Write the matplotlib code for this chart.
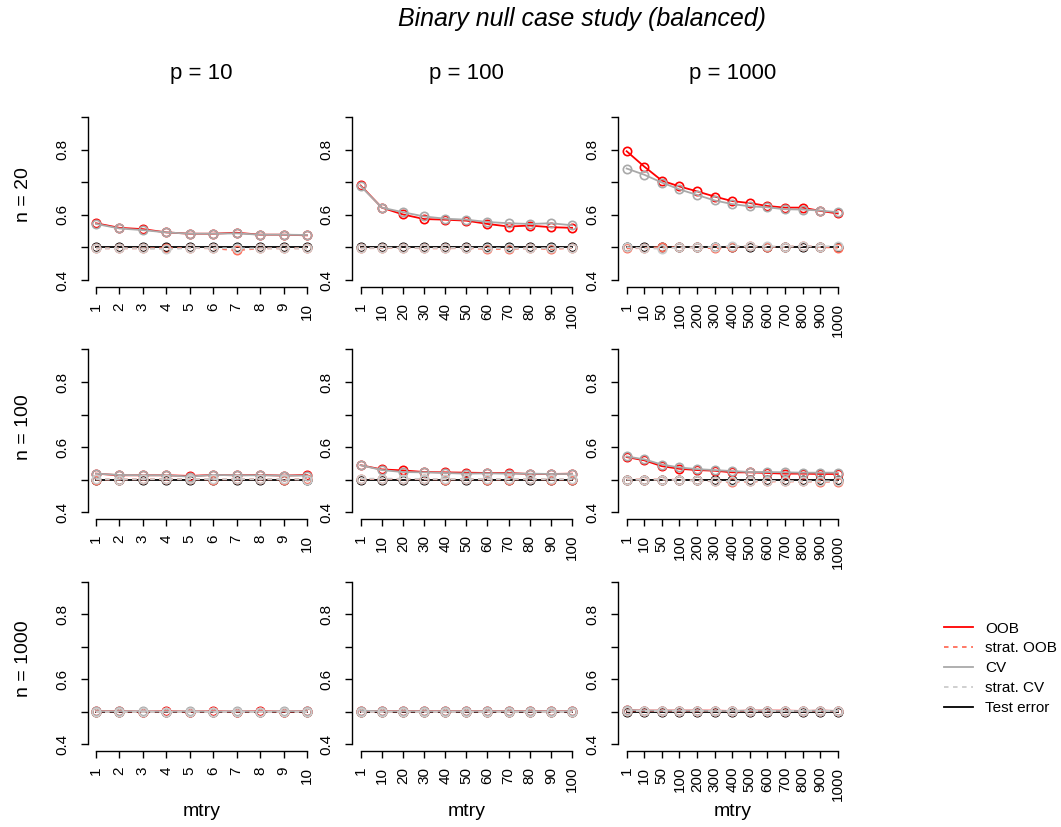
import matplotlib
matplotlib.use("Agg")
import matplotlib.pyplot as plt
from matplotlib.lines import Line2D

plt.rcParams["font.family"] = ["Liberation Sans", "DejaVu Sans"]

# mtry grids per number of predictors p
mtry_p10 = ["1", "2", "3", "4", "5", "6", "7", "8", "9", "10"]
mtry_p100 = ["1", "10", "20", "30", "40", "50", "60", "70", "80", "90", "100"]
mtry_p1000 = ["1", "10", "50", "100", "200", "300", "400", "500", "600",
              "700", "800", "900", "1000"]

col_titles = ["p = 10", "p = 100", "p = 1000"]
row_titles = ["n = 20", "n = 100", "n = 1000"]
series_names = ["OOB", "strat. OOB", "CV", "strat. CV", "Test error"]

# ---- n = 20 ----
oob_n20_p10 = [0.574, 0.560, 0.556, 0.546, 0.542, 0.542, 0.545, 0.539, 0.539, 0.537]
soob_n20_p10 = [0.497, 0.497, 0.497, 0.498, 0.498, 0.497, 0.491, 0.497, 0.497, 0.497]
cv_n20_p10 = [0.572, 0.558, 0.553, 0.546, 0.542, 0.542, 0.543, 0.539, 0.539, 0.538]
scv_n20_p10 = [0.497, 0.497, 0.497, 0.494, 0.498, 0.498, 0.497, 0.497, 0.497, 0.497]
test_n20_p10 = [0.501, 0.501, 0.501, 0.501, 0.501, 0.501, 0.501, 0.501, 0.501, 0.501]

oob_n20_p100 = [0.690, 0.622, 0.601, 0.587, 0.585, 0.582, 0.572, 0.564, 0.567, 0.562, 0.560]
soob_n20_p100 = [0.497, 0.498, 0.499, 0.497, 0.497, 0.498, 0.495, 0.495, 0.497, 0.495, 0.498]
cv_n20_p100 = [0.688, 0.622, 0.608, 0.595, 0.588, 0.585, 0.578, 0.574, 0.572, 0.574, 0.568]
scv_n20_p100 = [0.497, 0.499, 0.499, 0.498, 0.498, 0.499, 0.498, 0.497, 0.497, 0.498, 0.499]
test_n20_p100 = [0.501, 0.501, 0.501, 0.501, 0.501, 0.501, 0.501, 0.501, 0.501, 0.501, 0.501]

oob_n20_p1000 = [0.795, 0.748, 0.705, 0.687, 0.672, 0.656, 0.642, 0.636, 0.627,
                 0.622, 0.622, 0.612, 0.604]
soob_n20_p1000 = [0.497, 0.498, 0.501, 0.500, 0.500, 0.497, 0.502, 0.503, 0.502,
                  0.501, 0.505, 0.501, 0.499]
cv_n20_p1000 = [0.742, 0.723, 0.699, 0.678, 0.661, 0.644, 0.633, 0.626, 0.623,
                0.617, 0.616, 0.613, 0.608]
scv_n20_p1000 = [0.501, 0.497, 0.496, 0.500, 0.500, 0.501, 0.504, 0.503, 0.503,
                 0.502, 0.504, 0.502, 0.505]
test_n20_p1000 = [0.500, 0.500, 0.500, 0.500, 0.500, 0.500, 0.500, 0.500, 0.500,
                  0.500, 0.500, 0.500, 0.500]

# ---- n = 100 ----
oob_n100_p10 = [0.518, 0.513, 0.513, 0.513, 0.511, 0.514, 0.513, 0.514, 0.512, 0.514]
soob_n100_p10 = [0.500, 0.500, 0.501, 0.501, 0.501, 0.500, 0.501, 0.501, 0.500, 0.501]
cv_n100_p10 = [0.518, 0.514, 0.513, 0.513, 0.509, 0.514, 0.513, 0.513, 0.512, 0.512]
scv_n100_p10 = [0.501, 0.500, 0.501, 0.501, 0.501, 0.501, 0.501, 0.501, 0.501, 0.500]
test_n100_p10 = [0.500, 0.500, 0.500, 0.500, 0.500, 0.500, 0.500, 0.500, 0.500, 0.500]

oob_n100_p100 = [0.544, 0.531, 0.528, 0.523, 0.522, 0.521, 0.520, 0.520, 0.517, 0.517, 0.518]
soob_n100_p100 = [0.501, 0.502, 0.501, 0.501, 0.500, 0.501, 0.500, 0.500, 0.501, 0.500, 0.500]
cv_n100_p100 = [0.544, 0.529, 0.523, 0.522, 0.520, 0.518, 0.519, 0.518, 0.518, 0.517, 0.517]
scv_n100_p100 = [0.502, 0.503, 0.502, 0.502, 0.501, 0.501, 0.501, 0.501, 0.501, 0.501, 0.501]
test_n100_p100 = [0.500, 0.500, 0.500, 0.500, 0.500, 0.500, 0.500, 0.500, 0.500, 0.500, 0.500]

oob_n100_p1000 = [0.569, 0.559, 0.541, 0.533, 0.529, 0.527, 0.522, 0.522, 0.520,
                  0.518, 0.518, 0.517, 0.517]
soob_n100_p1000 = [0.500, 0.500, 0.500, 0.499, 0.497, 0.494, 0.493, 0.494, 0.494,
                   0.494, 0.494, 0.493, 0.493]
cv_n100_p1000 = [0.571, 0.562, 0.546, 0.537, 0.532, 0.529, 0.526, 0.523, 0.523,
                 0.522, 0.521, 0.521, 0.521]
scv_n100_p1000 = [0.500, 0.499, 0.500, 0.498, 0.497, 0.495, 0.495, 0.496, 0.496,
                  0.495, 0.495, 0.495, 0.494]
test_n100_p1000 = [0.500, 0.500, 0.500, 0.500, 0.500, 0.500, 0.500, 0.500, 0.500,
                   0.500, 0.500, 0.500, 0.500]

# ---- n = 1000 ----
oob_n1000_p10 = [0.501, 0.501, 0.500, 0.501, 0.500, 0.501, 0.500, 0.501, 0.500, 0.501]
soob_n1000_p10 = [0.500, 0.500, 0.500, 0.500, 0.500, 0.500, 0.500, 0.500, 0.500, 0.500]
cv_n1000_p10 = [0.501, 0.501, 0.501, 0.500, 0.501, 0.500, 0.501, 0.500, 0.501, 0.501]
scv_n1000_p10 = [0.500, 0.500, 0.500, 0.500, 0.500, 0.500, 0.500, 0.500, 0.500, 0.500]
test_n1000_p10 = [0.500, 0.500, 0.500, 0.500, 0.500, 0.500, 0.500, 0.500, 0.500, 0.500]

oob_n1000_p100 = [0.502, 0.501, 0.501, 0.501, 0.501, 0.501, 0.501, 0.501, 0.501, 0.501, 0.501]
soob_n1000_p100 = [0.500, 0.500, 0.500, 0.500, 0.500, 0.500, 0.500, 0.500, 0.500, 0.500, 0.500]
cv_n1000_p100 = [0.503, 0.501, 0.501, 0.501, 0.501, 0.501, 0.501, 0.501, 0.501, 0.501, 0.501]
scv_n1000_p100 = [0.500, 0.500, 0.500, 0.500, 0.500, 0.500, 0.500, 0.500, 0.500, 0.500, 0.500]
test_n1000_p100 = [0.500, 0.500, 0.500, 0.500, 0.500, 0.500, 0.500, 0.500, 0.500, 0.500, 0.500]

oob_n1000_p1000 = [0.504, 0.503, 0.503, 0.503, 0.503, 0.503, 0.502, 0.503, 0.503,
                   0.503, 0.502, 0.503, 0.502]
soob_n1000_p1000 = [0.501, 0.501, 0.501, 0.501, 0.501, 0.501, 0.501, 0.501, 0.501,
                    0.501, 0.501, 0.501, 0.501]
cv_n1000_p1000 = [0.505, 0.503, 0.503, 0.503, 0.503, 0.502, 0.502, 0.503, 0.503,
                  0.502, 0.502, 0.503, 0.502]
scv_n1000_p1000 = [0.501, 0.501, 0.501, 0.501, 0.501, 0.501, 0.501, 0.501, 0.501,
                   0.501, 0.501, 0.501, 0.501]
test_n1000_p1000 = [0.500, 0.500, 0.500, 0.500, 0.500, 0.500, 0.500, 0.500, 0.500,
                    0.500, 0.500, 0.500, 0.500]

grids = [mtry_p10, mtry_p100, mtry_p1000]
panels = [
    [(oob_n20_p10, soob_n20_p10, cv_n20_p10, scv_n20_p10, test_n20_p10),
     (oob_n20_p100, soob_n20_p100, cv_n20_p100, scv_n20_p100, test_n20_p100),
     (oob_n20_p1000, soob_n20_p1000, cv_n20_p1000, scv_n20_p1000, test_n20_p1000)],
    [(oob_n100_p10, soob_n100_p10, cv_n100_p10, scv_n100_p10, test_n100_p10),
     (oob_n100_p100, soob_n100_p100, cv_n100_p100, scv_n100_p100, test_n100_p100),
     (oob_n100_p1000, soob_n100_p1000, cv_n100_p1000, scv_n100_p1000, test_n100_p1000)],
    [(oob_n1000_p10, soob_n1000_p10, cv_n1000_p10, scv_n1000_p10, test_n1000_p10),
     (oob_n1000_p100, soob_n1000_p100, cv_n1000_p100, scv_n1000_p100, test_n1000_p100),
     (oob_n1000_p1000, soob_n1000_p1000, cv_n1000_p1000, scv_n1000_p1000, test_n1000_p1000)],
]

# line styles: (colour, linestyle) for OOB, strat. OOB, CV, strat. CV, test error
styles = [("#FF0000", "-"), ("#FF6E5A", (0, (2.5, 2.5))), ("#A9A9A9", "-"),
          ("#CCCCCC", (0, (2.5, 2.5))), ("#000000", "-")]
draw_order = [4, 0, 1, 2, 3]

W, H = 1061, 827
fig = plt.figure(figsize=(W / 100, H / 100), dpi=100)

col_left = [87.6, 352.2, 618.2]
col_right = [315.4, 580.5, 846.2]
row_top = [110.5, 343.0, 575.5]
row_bottom = [286.5, 518.5, 750.5]

for r in range(3):
    for c in range(3):
        l, rr = col_left[c], col_right[c]
        t, b = row_top[r], row_bottom[r]
        ax = fig.add_axes([l / W, 1 - b / H, (rr - l) / W, (b - t) / H])
        labels = grids[c]
        xs = list(range(len(labels)))
        span = len(labels) - 1
        for k in draw_order:
            colr, ls = styles[k]
            ax.plot(xs, panels[r][c][k], color=colr, linestyle=ls, lw=1.3,
                    marker="o", markersize=6.0, markerfacecolor="none",
                    markeredgecolor=colr, markeredgewidth=1.2)
        ax.set_xlim(-0.04 * span, span * 1.04)
        ax.set_ylim(0.38, 0.92)
        ax.spines["top"].set_visible(False)
        ax.spines["right"].set_visible(False)
        ax.spines["left"].set_bounds(0.4, 0.9)
        ax.spines["bottom"].set_bounds(0, span)
        for s in ("left", "bottom"):
            ax.spines[s].set_linewidth(1.0)
        ax.set_xticks(xs)
        ax.set_xticklabels(labels, rotation=90, fontsize=11)
        ax.set_yticks([0.4, 0.5, 0.6, 0.7, 0.8, 0.9])
        ax.set_yticklabels(["0.4", "", "0.6", "", "0.8", ""], rotation=90,
                           fontsize=11, va="center")
        ax.tick_params(axis="both", length=5.3, width=1.0)
        ax.tick_params(axis="x", pad=6.5)
        ax.tick_params(axis="y", pad=8)

for c in range(3):
    xc = (col_left[c] + col_right[c]) / 2 / W
    fig.text(xc, 1 - 73 / H, col_titles[c], ha="center", va="center", fontsize=16)
    fig.text(xc, 1 - 811 / H, "mtry", ha="center", va="center", fontsize=14)

for r in range(3):
    yc = 1 - ((row_top[r] + row_bottom[r]) / 2 - 4) / H
    fig.text(23 / W, yc, row_titles[r], ha="center", va="center",
             rotation=90, fontsize=14)

fig.text(582 / W, 1 - 19 / H, "Binary null case study (balanced)", ha="center",
         va="center", fontsize=18, style="italic")

handles = [Line2D([0], [0], color=styles[k][0], linestyle=styles[k][1], lw=1.3)
           for k in range(5)]
fig.legend(handles, series_names, loc="upper left",
           bbox_to_anchor=(936 / W, 1 - 614 / H), frameon=False, fontsize=11,
           handlelength=1.9, handletextpad=0.8, labelspacing=0.38, borderpad=0)

fig.savefig("out.png", dpi=100)
